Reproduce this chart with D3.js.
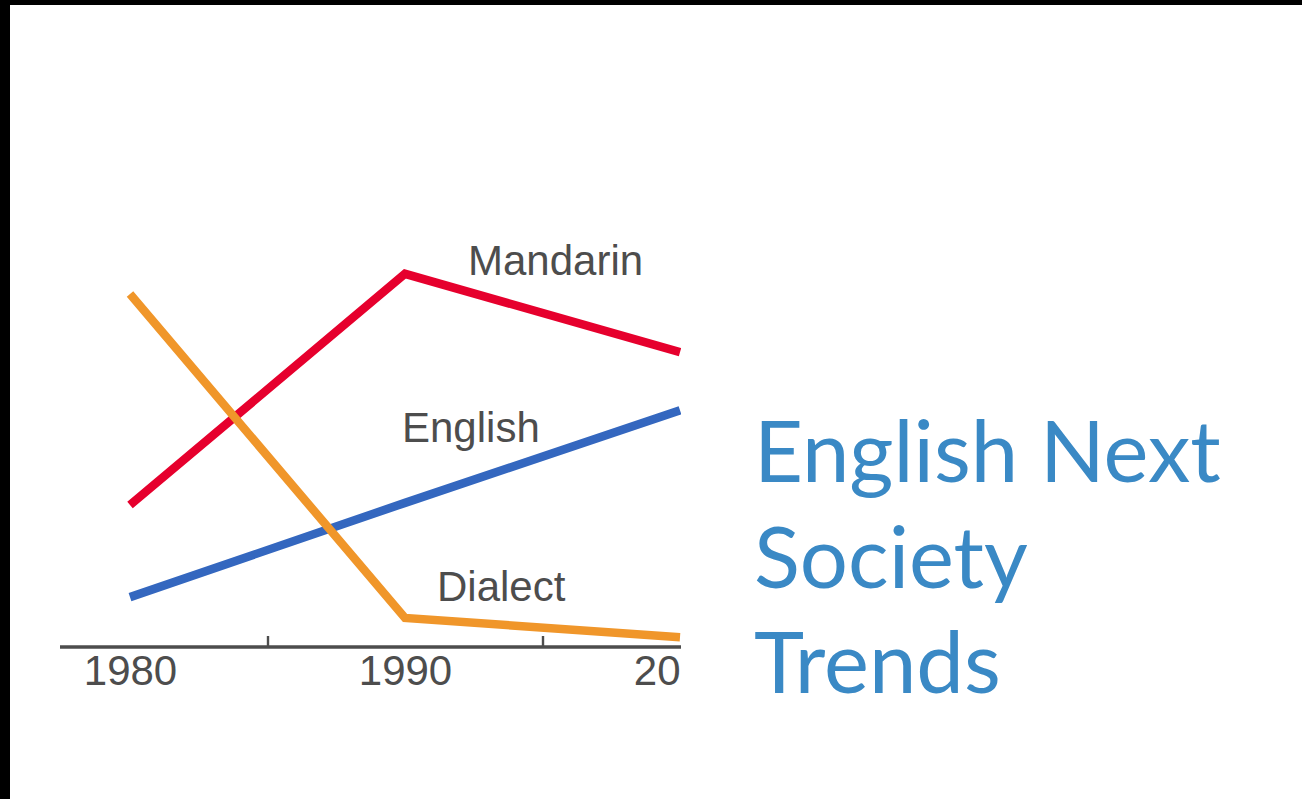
<!DOCTYPE html>
<html>
<head>
<meta charset="utf-8">
<script src="https://cdn.jsdelivr.net/npm/d3@7"></script>
<style>
  html, body { margin: 0; padding: 0; background: #fff; }
  svg { display: block; }
</style>
</head>
<body>
<script>
// ---- data ----
const years = [1980, 1990, 2000];
const mandarin = [25.9, 68.1, 53.8];
const english = [9.1, 26.3, 43.2];
const dialect = [64.4, 5.3, 1.8];
const seriesNames = ["Mandarin", "English", "Dialect"];
const majorTicks = [1980, 1990, 2000];
const minorTicks = [1985, 1995];
const titleLines = ["English Next", "Society", "Trends"];

const W = 1302, H = 799;
const svg = d3.select("body").append("svg").attr("width", W).attr("height", H);

// page frame (black edge top/left as in reference)
svg.append("rect").attr("width", W).attr("height", H).attr("fill", "#000");
svg.append("rect").attr("x", 10).attr("y", 5).attr("width", W - 10).attr("height", H - 5).attr("fill", "#fff");

const axisY = 647;
const clipRight = 681;
const x = d3.scaleLinear().domain([1980, 2000]).range([130, 680]);
const y = d3.scaleLinear().domain([0, 70]).range([axisY, axisY - 70 * 5.48]);

svg.append("defs").append("clipPath").attr("id", "clip")
  .append("rect").attr("x", 0).attr("y", 0).attr("width", clipRight).attr("height", H);

const g = svg.append("g").attr("clip-path", "url(#clip)");

const series = [
  { name: seriesNames[0], values: mandarin, color: "#e6002d" },
  { name: seriesNames[1], values: english, color: "#3467bf" },
  { name: seriesNames[2], values: dialect, color: "#f0962a" }
];

const line = d3.line().x((d, i) => x(years[i])).y(d => y(d));

// axis
const axisG = g.append("g").attr("transform", `translate(0,${axisY})`);
axisG.append("line").attr("x1", 60).attr("x2", clipRight + 2)
  .attr("y1", 0).attr("y2", 0).attr("stroke", "#4d4d4d").attr("stroke-width", 3.5);

const minorAxis = d3.axisBottom(x).tickValues(minorTicks).tickSize(-11).tickFormat("");
const mG = axisG.append("g").call(minorAxis);
mG.select(".domain").remove();
mG.selectAll(".tick line").attr("stroke", "#4d4d4d").attr("stroke-width", 2.4);

const majorAxis = d3.axisBottom(x).tickValues(majorTicks).tickSize(0).tickFormat(d3.format("d"));
const MG = axisG.append("g").call(majorAxis);
MG.select(".domain").remove();
MG.selectAll(".tick text")
  .attr("y", 38).attr("dy", 0)
  .attr("fill", "#4d4d4d")
  .style("font-family", "'Liberation Sans', Arial, sans-serif")
  .style("font-size", "42px");

// lines
g.selectAll("path.series").data(series).enter().append("path")
  .attr("class", "series")
  .attr("d", d => line(d.values))
  .attr("fill", "none")
  .attr("stroke", d => d.color)
  .attr("stroke-width", 8.5)
  .attr("stroke-linejoin", "miter");

// labels, placed relative to the 1990 data point
const labelOffsets = [[63, 1], [-3, -61], [32, -17]];
g.selectAll("text.lbl").data(series).enter().append("text")
  .attr("class", "lbl")
  .attr("x", (d, i) => x(years[1]) + labelOffsets[i][0])
  .attr("y", (d, i) => y(d.values[1]) + labelOffsets[i][1])
  .attr("fill", "#4d4d4d")
  .style("font-family", "'Liberation Sans', Arial, sans-serif")
  .style("font-size", "42px")
  .text(d => d.name);

// title
const title = svg.append("text")
  .attr("x", 753).attr("y", 482)
  .attr("fill", "#3a89c5")
  .style("font-family", "Lato, 'Open Sans', sans-serif")
  .style("font-size", "85px");
titleLines.forEach((t, i) => {
  title.append("tspan").attr("x", 754).attr("y", 482 + i * 105.5).text(t);
});
</script>
</body>
</html>
